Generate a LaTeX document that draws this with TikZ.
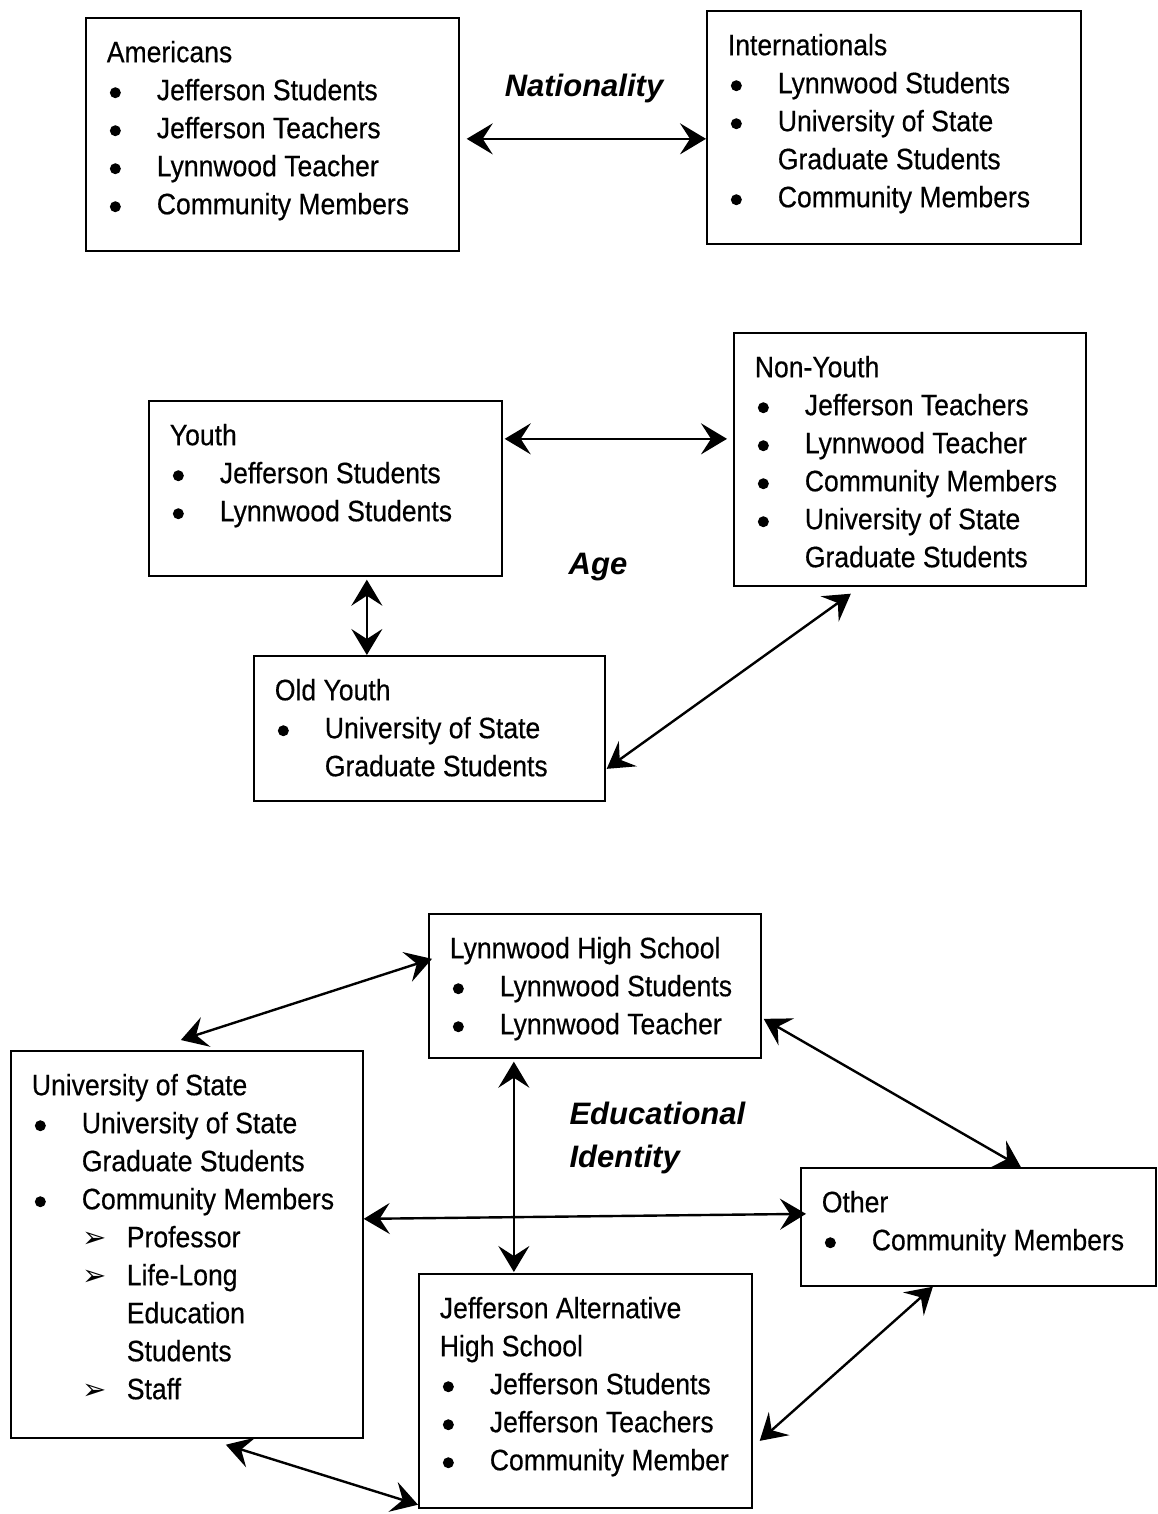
\documentclass[tikz,border=0pt]{standalone}
\usepackage{fontspec}
\setmainfont[FakeStretch=0.9, FakeBold=0.4]{Liberation Sans}
\newfontfamily\lblfont{Liberation Sans}
\newfontfamily\dingfont{DejaVu Sans}
\usetikzlibrary{arrows.meta, positioning}

% list marks used inside the boxes
\newcommand{\blt}{\tikz[baseline=-7.5pt]\fill (5.5pt,0) circle (5.5pt);}
\newcommand{\itm}[1]{\hspace*{3pt}\makebox[47pt][l]{\blt}#1}
\newcommand{\cont}[1]{\hspace*{50pt}#1}
\newcommand{\subitm}[1]{\hspace*{51pt}\makebox[44pt][l]{{\dingfont\fontsize{29}{38}\selectfont ➢}}#1}
\newcommand{\subcont}[1]{\hspace*{95pt}#1}
\newcommand{\grpbox}[3]{\parbox[t][#2pt][t]{#1pt}{#3}}

\begin{document}
\begin{tikzpicture}[x=1pt, y=-1pt,
	grp/.style={draw, line width=1.7pt, anchor=north west, inner xsep=21pt, inner ysep=23pt,
		font=\fontsize{29.5}{38}\selectfont},
	axislbl/.style={font=\lblfont\fontsize{31}{43}\selectfont\bfseries\itshape, align=left},
	link/.style={<->, line width=2.4pt},
	>={Stealth[length=26pt, width=31pt, inset=10pt]}]
	\useasboundingbox (0,0) rectangle (1158,1514);
	
	% Nationality
	\node[grp] (amer) at (85,17) {\grpbox{331}{187}{Americans\\
			\itm{Jefferson Students}\\ \itm{Jefferson Teachers}\\
			\itm{Lynnwood Teacher}\\ \itm{Community Members}}};
	\node[grp] (intl) at (706,10) {\grpbox{332}{187}{Internationals\\
			\itm{Lynnwood Students}\\ \itm{University of State}\\
			\cont{Graduate Students}\\ \itm{Community Members}}};
	\node[axislbl] (nat) at (584,88) {Nationality};
	\draw[link] ([shift={(7,4.5)}]amer.east) -- ([shift={(0,11.5)}]intl.west);
	
	% Age
	\node[grp] (youth) at (148,400) {\grpbox{311}{129}{Youth\\
			\itm{Jefferson Students}\\ \itm{Lynnwood Students}}};
	\node[grp] (nony) at (733,332) {\grpbox{310}{207}{Non-Youth\\
			\itm{Jefferson Teachers}\\ \itm{Lynnwood Teacher}\\
			\itm{Community Members}\\ \itm{University of State}\\
			\cont{Graduate Students}}};
	\node[grp] (oldy) at (253,655) {\grpbox{309}{99}{Old Youth\\
			\itm{University of State}\\ \cont{Graduate Students}}};
	\node[axislbl] (age) at (598,567) {Age};
	\draw[link] ([shift={(2,-49.5)}]youth.east) -- ([shift={(-6,-20.5)}]nony.west);
	\draw[link] ([shift={(41.5,3)}]youth.south) -- ([shift={(-62.5,0)}]oldy.north);
	\draw[link] ([shift={(1,40.5)}]oldy.east) -- ([shift={(-59,7)}]nony.south);
	
	% Educational identity
	\node[grp] (lynn) at (428,913) {\grpbox{290}{98}{Lynnwood High School\\
			\itm{Lynnwood Students}\\ \itm{Lynnwood Teacher}}};
	\node[grp] (univ) at (10,1050) {\grpbox{310}{341}{University of State\\
			\itm{University of State}\\ \cont{Graduate Students}\\
			\itm{Community Members}\\ \subitm{Professor}\\
			\subitm{Life-Long}\\ \subcont{Education}\\ \subcont{Students}\\
			\subitm{Staff}}};
	\node[grp] (other) at (800,1167) {\grpbox{313}{72}{Other\\
			\itm{Community Members}}};
	\node[grp] (jeff) at (418,1273) {\grpbox{291}{188}{Jefferson Alternative\\
			High School\\ \itm{Jefferson Students}\\
			\itm{Jefferson Teachers}\\ \itm{Community Member}}};
	\node[axislbl, anchor=west] (edu) at (566,1138) {Educational\\Identity};
	\draw[link] ([shift={(-6,-10)}]univ.north) -- ([shift={(4,-27)}]lynn.west);
	\draw[link] ([shift={(2,33)}]lynn.east) -- ([shift={(42.5,0)}]other.north);
	\draw[link] ([shift={(-81,3)}]lynn.south) -- ([shift={(-71.5,-1)}]jeff.north);
	\draw[link] ([shift={(0,-25.5)}]univ.east) -- ([shift={(6,-13)}]other.west);
	\draw[link] ([shift={(-45.5,0)}]other.south) -- ([shift={(7,50)}]jeff.east);
	\draw[link] ([shift={(39,6)}]univ.south) -- ([shift={(0,-4)}]jeff.south west);
\end{tikzpicture}
\end{document}
